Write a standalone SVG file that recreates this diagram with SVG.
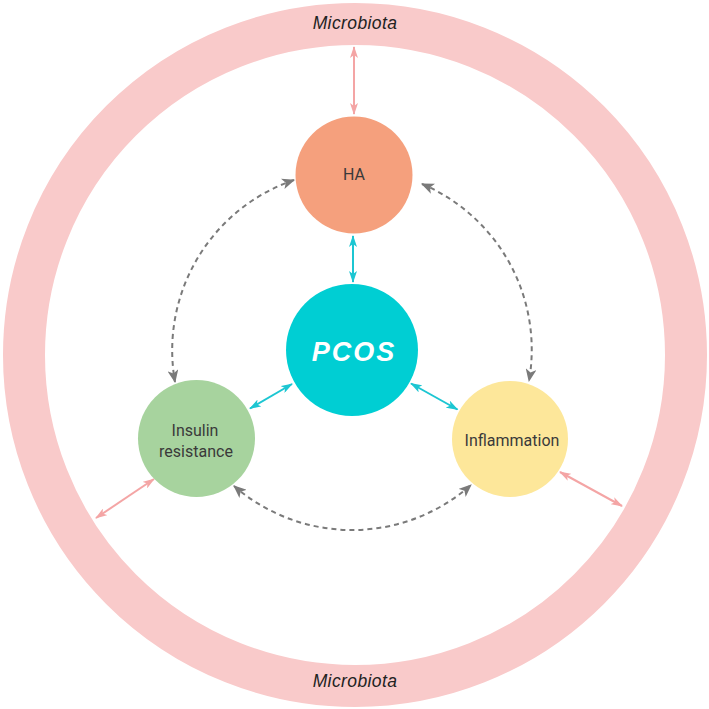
<svg xmlns="http://www.w3.org/2000/svg" width="709" height="709" viewBox="0 0 709 709">
<defs>
<marker id="aPink" viewBox="0 0 12 8" refX="11" refY="4" markerWidth="12" markerHeight="8" markerUnits="userSpaceOnUse" orient="auto-start-reverse"><path d="M0,0 L12,4 L0,8 L3,4 z" fill="#F4A5A5"/></marker>
<marker id="aCyan" viewBox="0 0 12 8" refX="11" refY="4" markerWidth="12" markerHeight="8" markerUnits="userSpaceOnUse" orient="auto-start-reverse"><path d="M0,0 L12,4 L0,8 L3,4 z" fill="#1CC6D2"/></marker>
<marker id="aGray" viewBox="0 0 12 10" refX="11" refY="5" markerWidth="13" markerHeight="11" markerUnits="userSpaceOnUse" orient="auto-start-reverse"><path d="M0,0 L12,5 L0,10 L3,5 z" fill="#7A7A7A"/></marker>
</defs>
<style>
.lbl{font-family:Roboto,"Liberation Sans",sans-serif;font-size:16px;fill:#3a3a3a;text-anchor:middle}
.mb{font-family:"Liberation Sans",Arial,sans-serif;font-style:italic;font-size:17.5px;fill:#222;text-anchor:middle;letter-spacing:0.4px}
.pink{stroke:#F4A5A5;stroke-width:2;fill:none;marker-start:url(#aPink);marker-end:url(#aPink)}
.cyan{stroke:#1CC6D2;stroke-width:2;fill:none;marker-start:url(#aCyan);marker-end:url(#aCyan)}
.dash{stroke:#7A7A7A;stroke-width:2;fill:none;stroke-dasharray:5 4;marker-start:url(#aGray);marker-end:url(#aGray)}
</style>
<rect width="709" height="709" fill="#fff"/>
<g id="microbiota">
<circle cx="355" cy="355" r="331" fill="none" stroke="#F9CACA" stroke-width="42"/>
<text class="mb" x="355" y="29">Microbiota</text>
<text class="mb" x="355" y="687">Microbiota</text>
</g>
<g id="connectors">
<line class="pink" x1="354" y1="47" x2="354" y2="114"/>
<line class="pink" x1="154" y1="479" x2="96" y2="518"/>
<line class="pink" x1="560" y1="472" x2="622" y2="506"/>
<line class="cyan" x1="353" y1="236" x2="353" y2="282"/>
<line class="cyan" x1="292" y1="384" x2="250" y2="408.5"/>
<line class="cyan" x1="411" y1="383.5" x2="457.5" y2="409.5"/>
<path class="dash" d="M294,180 A180,180 0 0 0 175,382"/>
<path class="dash" d="M422,184 A180,180 0 0 1 529,381"/>
<path class="dash" d="M234,486 A180,180 0 0 0 471,485"/>
</g>
<g id="ha">
<circle cx="354" cy="175" r="58.5" fill="#F5A07D"/>
<text class="lbl" x="354" y="180" font-size="17">HA</text>
</g>
<g id="pcos">
<circle cx="352" cy="350" r="66" fill="#00CED3"/>
<text x="354" y="361" font-family="'Liberation Sans',Arial,sans-serif" font-size="27" font-weight="bold" font-style="italic" fill="#fff" text-anchor="middle" letter-spacing="2">PCOS</text>
</g>
<g id="insulin">
<circle cx="196.5" cy="438.5" r="58.5" fill="#A7D39E"/>
<text class="lbl" x="195" y="436">Insulin</text>
<text class="lbl" x="196" y="457">resistance</text>
</g>
<g id="inflammation">
<circle cx="510" cy="439" r="58" fill="#FDE79A"/>
<text class="lbl" x="512" y="446">Inflammation</text>
</g>
</svg>
